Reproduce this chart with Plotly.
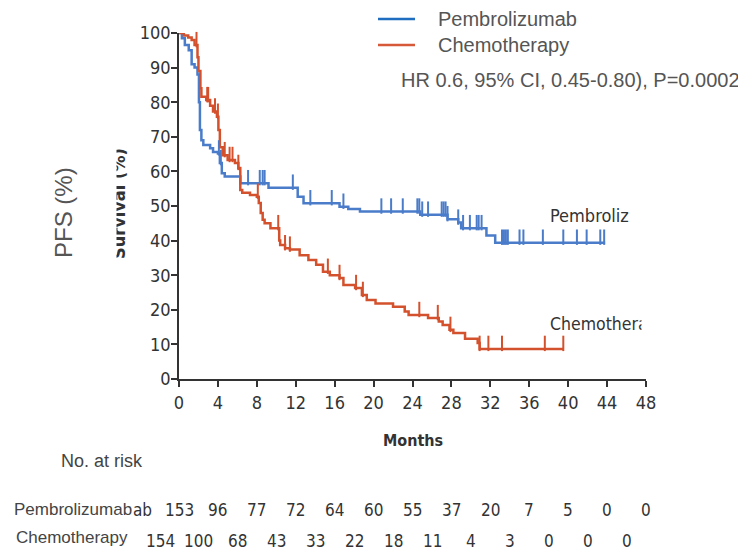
import plotly.graph_objects as go

# ---------------- data ----------------
pembro_time = [0, 0.3, 0.6, 1.0, 1.3, 1.6, 1.9, 2.05, 2.15, 2.3, 2.5, 3.2, 3.5, 4.0, 4.2, 4.4, 4.7,
               6.3, 9.2, 12.2, 12.8, 16.5, 17.4, 18.6, 24.8, 27.6, 28.7, 29.0, 31.6, 32.5, 43.8]
pembro_surv = [100, 98.5, 96.5, 95, 91, 90, 88, 80, 72, 69, 67.6, 66.7, 65.6, 65.2, 62.4, 59.5, 58.5,
               56.6, 55.3, 52.7, 50.8, 49.8, 49.1, 48.4, 47.5, 46.2, 45.2, 43.6, 41.5, 39.4, 39.4]
pembro_censor = [4.1, 4.3, 7.1, 8.3, 8.6, 8.8, 11.7, 13.5, 15.7, 16.9, 20.8, 21.8, 23.0, 24.5, 24.7,
                 25.0, 25.6, 27.0, 27.2, 27.4, 27.6, 28.7, 29.2, 29.9, 30.6, 30.8, 31.1, 33.2, 33.4,
                 33.6, 33.8, 35.0, 35.4, 37.4, 39.5, 40.9, 41.9, 43.3, 43.7]

chemo_time = [0, 0.5, 0.95, 1.3, 1.6, 1.9, 2.0, 2.2, 2.3, 2.8, 3.2, 3.5, 3.9, 4.05, 4.2, 4.5, 5.0,
              5.75, 6.1, 6.3, 6.5, 7.3, 8.0, 8.2, 8.4, 8.6, 8.8, 9.4, 10.3, 10.4, 10.9, 11.4, 12.4,
              13.3, 14.1, 14.8, 15.5, 16.5, 16.9, 18.1, 18.8, 19.3, 20.2, 22.0, 23.2, 23.6, 25.6,
              26.7, 27.1, 27.8, 28.2, 29.4, 30.7, 30.9, 39.5]
chemo_surv = [100, 99.3, 98.7, 98, 96.5, 93, 89, 84, 81.6, 80.6, 79, 77.3, 75.8, 72, 67, 64.7, 63.3,
              62.4, 61, 54.6, 53.8, 53.2, 52.7, 50.9, 48, 46, 45, 43.6, 40, 38.7, 37.8, 37.4, 35.8,
              34.4, 33, 31, 30, 29.2, 27.2, 26.3, 24.3, 22.8, 21.8, 20.9, 19.5, 18.5, 17.6,
              16.6, 15.6, 14.2, 13.3, 11.6, 10.4, 8.7, 8.7]
chemo_censor = [0, 1.8, 2.9, 3.0, 3.7, 4.0, 4.7, 5.2, 5.5, 6.1, 8.1, 10.2, 10.9, 11.4, 15.3, 16.5,
                18.2, 18.9, 24.7, 26.6, 27.9, 30.9, 31.8, 33.2, 37.6, 39.5]

risk_months = [0, 4, 8, 12, 16, 20, 24, 28, 32, 36, 40, 44, 48]
pembro_risk = [153, 96, 77, 72, 64, 60, 55, 37, 20, 7, 5, 0, 0]
chemo_risk = [154, 100, 68, 43, 33, 22, 18, 11, 4, 3, 0, 0, 0]

x_ticks = list(range(0, 49, 4))
y_ticks = list(range(0, 101, 10))

series_names = ["Pembrolizumab", "Chemotherapy"]
hr_text = "HR 0.6, 95% CI, 0.45-0.80), P=0.0002"

# ---------------- styling ----------------
BLUE = "#4a7cca"
RED = "#d4512d"
LEG_BLUE = "#1f6dc0"
LEG_RED = "#d65a3a"
NARROW = "Liberation Sans Narrow, DejaVu Sans Condensed, Roboto Condensed, Arial Narrow, sans-serif"
ARIAL = "Liberation Sans, Arial, sans-serif"

# page body has an 8px margin: the figure is drawn 8px smaller and offset
OFF = 8
W, H = 746 - OFF, 551 - OFF
L, R, T, B = 179, 646, 33, 379   # plot area in reference pixels
X_MAX = 48.0


def px(xp):
    return (xp - L) / (R - L)


def py(yp):
    return (B - yp) / (B - T)


def surv_at(times, surv, t):
    v = surv[0]
    for ti, si in zip(times, surv):
        if ti <= t:
            v = si
        else:
            break
    return v


TICK_PX = 11
tick_off = (TICK_PX / 2) / ((B - T) / 100.0)

fig = go.Figure()

fig.add_trace(go.Scatter(x=pembro_time, y=pembro_surv, mode="lines", line=dict(color=BLUE, width=2.5, shape="hv"),
                         name=series_names[0], showlegend=False, cliponaxis=False))
fig.add_trace(go.Scatter(x=chemo_time, y=chemo_surv, mode="lines", line=dict(color=RED, width=2.5, shape="hv"),
                         name=series_names[1], showlegend=False, cliponaxis=False))

for times, surv, cens, col in [(pembro_time, pembro_surv, pembro_censor, BLUE),
                               (chemo_time, chemo_surv, chemo_censor, RED)]:
    fig.add_trace(go.Scatter(
        x=cens, y=[surv_at(times, surv, c) + tick_off for c in cens], mode="markers",
        marker=dict(symbol="line-ns", size=TICK_PX, line=dict(color=col, width=2)),
        showlegend=False, cliponaxis=False, hoverinfo="skip"))

ann = []
shapes = [
    dict(type="line", xref="paper", yref="paper", x0=px(378), x1=px(415), y0=py(19), y1=py(19),
         line=dict(color=LEG_BLUE, width=2.5)),
    dict(type="line", xref="paper", yref="paper", x0=px(378), x1=px(415), y0=py(45), y1=py(45),
         line=dict(color=LEG_RED, width=2.5)),
]
ann.append(dict(text=series_names[0], x=px(436), y=py(19), xanchor="left", yanchor="middle",
                font=dict(family=ARIAL, size=20, color="#555555")))
ann.append(dict(text=series_names[1], x=px(436), y=py(45), xanchor="left", yanchor="middle",
                font=dict(family=ARIAL, size=20, color="#555555")))
ann.append(dict(text=hr_text, x=px(399), y=py(80), xanchor="left", yanchor="middle",
                font=dict(family=ARIAL, size=20, color="#555555")))

# axis titles
ann.append(dict(text="PFS (%)", x=px(63), y=py(213), textangle=-90, xanchor="center", yanchor="middle",
                font=dict(family=ARIAL, size=24, color="#555555")))
ann.append(dict(text="<b>Survival (%)</b>", x=px(119), y=py(204), textangle=-90, xanchor="center",
                yanchor="middle", font=dict(family=NARROW, size=18, color="#333333")))
ann.append(dict(text="<b>Months</b>", x=px(413), y=py(440), xanchor="center", yanchor="middle",
                font=dict(family=NARROW, size=16, color="#333333")))

# curve labels
ann.append(dict(text="Pembroliz", x=px(548), y=py(215), xanchor="left", yanchor="middle",
                font=dict(family=NARROW, size=18, color="#333333")))
ann.append(dict(text="Chemotherap", x=px(548), y=py(324), xanchor="left", yanchor="middle",
                font=dict(family=NARROW, size=17.5, color="#333333")))

# at-risk table
ann.append(dict(text="No. at risk", x=px(59), y=py(461), xanchor="left", yanchor="middle",
                font=dict(family=ARIAL, size=18, color="#444444")))
ann.append(dict(text=series_names[0], x=px(134), y=py(509), xanchor="right", yanchor="middle",
                font=dict(family=ARIAL, size=17, color="#444444")))
ann.append(dict(text="ab", x=px(131), y=py(510), xanchor="left", yanchor="middle",
                font=dict(family=NARROW, size=17, color="#333333")))
ann.append(dict(text=series_names[1], x=px(130), y=py(537), xanchor="right", yanchor="middle",
                font=dict(family=ARIAL, size=17, color="#444444")))
for m, v in zip(risk_months, pembro_risk):
    ann.append(dict(text=str(v), x=m / X_MAX, y=py(510), xanchor="center", yanchor="middle",
                    font=dict(family=NARROW, size=17, color="#333333")))
for m, v in zip(risk_months, chemo_risk):
    ann.append(dict(text=str(v), x=(m - 1.95) / X_MAX, y=py(541), xanchor="center", yanchor="middle",
                    font=dict(family=NARROW, size=17, color="#333333")))

# white covers (truncations in the reference)
ann.append(dict(text=" ", x=px(86), y=py(135), xanchor="left", yanchor="top", width=27, height=140,
                bgcolor="white"))
ann.append(dict(text=" ", x=px(641), y=py(200), xanchor="left", yanchor="top", width=40, height=140,
                bgcolor="white"))

for a in ann:
    a.setdefault("xref", "paper")
    a.setdefault("yref", "paper")
    a["showarrow"] = False

fig.update_layout(
    width=W, height=H,
    margin=dict(l=L - OFF, r=746 - R, t=T - OFF, b=551 - B, pad=0),
    paper_bgcolor="white", plot_bgcolor="white",
    showlegend=False,
    annotations=ann, shapes=shapes,
    xaxis=dict(range=[0, X_MAX], tickvals=x_ticks, showgrid=False, zeroline=False, showline=True,
               linecolor="#333333", linewidth=1.5, ticks="outside", ticklen=6, tickwidth=1.5,
               tickcolor="#333333", ticklabelstandoff=1,
               tickfont=dict(family=NARROW, size=18, color="#333333")),
    yaxis=dict(range=[0, 100], tickvals=y_ticks, showgrid=False, zeroline=False, showline=True,
               linecolor="#333333", linewidth=1.5, ticks="outside", ticklen=6, tickwidth=1.5,
               tickcolor="#333333", ticklabelstandoff=-3,
               tickfont=dict(family=NARROW, size=18, color="#333333")),
)

fig.write_html("out.html")
